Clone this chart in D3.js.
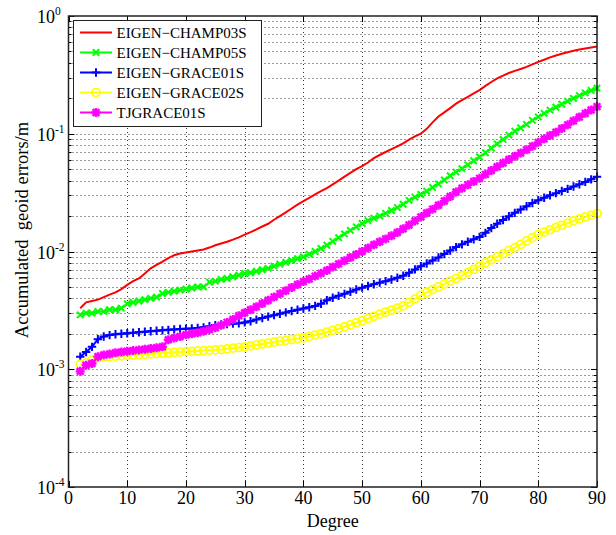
<!DOCTYPE html>
<html>
<head>
<meta charset="utf-8">
<style>
body { margin: 0; background: #fff; }
svg text { font-family: "Times New Roman", "Liberation Serif", "DejaVu Serif", serif; fill: #000; }
</style>
<script src="https://cdn.jsdelivr.net/npm/d3@7/dist/d3.min.js"></script>
</head>
<body>
<div id="chart"></div>
<script>
// degree 2..90, one value per degree
var degrees = d3.range(2, 91);

var champ03 = [0.0033,0.0037,0.0038,0.0039,0.0041,0.0043,0.0045,0.0048,0.0052,0.0056,
  0.0059,0.0065,0.0072,0.0077,0.0082,0.0088,0.0093,0.0096,0.0098,0.0100,
  0.0102,0.0104,0.0108,0.0113,0.0117,0.0121,0.0126,0.0132,0.0139,0.0146,
  0.0154,0.0163,0.0172,0.0186,0.0200,0.0215,0.0232,0.0250,0.0268,0.0285,
  0.0305,0.0325,0.0345,0.0372,0.0400,0.0432,0.0465,0.0500,0.0530,0.0570,
  0.0620,0.0660,0.0700,0.0740,0.0780,0.0830,0.0890,0.0950,0.1000,0.1100,
  0.1250,0.1400,0.1520,0.1650,0.1800,0.1930,0.2060,0.2200,0.2350,0.2550,
  0.2750,0.2950,0.3120,0.3280,0.3420,0.3550,0.3700,0.3880,0.4080,0.4250,
  0.4450,0.4620,0.4780,0.4920,0.5060,0.5190,0.5300,0.5400,0.5500];

var champ05 = [0.0029,0.0030,0.0030,0.0031,0.0031,0.0032,0.0032,0.0033,0.0036,0.0037,
  0.0038,0.0039,0.0040,0.0041,0.0044,0.0045,0.0046,0.0047,0.0048,0.0049,
  0.0050,0.0050,0.0055,0.0056,0.0058,0.0059,0.0061,0.0063,0.0065,0.0066,
  0.0068,0.0070,0.0072,0.0075,0.0078,0.0081,0.0084,0.0087,0.0090,0.0095,
  0.0100,0.0106,0.0113,0.0122,0.0131,0.0141,0.0151,0.0162,0.0173,0.0183,
  0.0192,0.0200,0.0211,0.0223,0.0236,0.0252,0.0272,0.0290,0.0305,0.0325,
  0.0350,0.0375,0.0405,0.0440,0.0472,0.0505,0.0545,0.0590,0.0635,0.0690,
  0.0755,0.0820,0.0895,0.0975,0.1050,0.1120,0.1200,0.1300,0.1390,0.1490,
  0.1590,0.1680,0.1780,0.1890,0.2000,0.2110,0.2220,0.2330,0.2440];

var grace01 = [0.00128,0.00140,0.00155,0.00180,0.00190,0.00195,0.00198,0.00200,0.00202,0.00204,
  0.00206,0.00208,0.00210,0.00212,0.00214,0.00216,0.00218,0.00220,0.00221,0.00222,
  0.00224,0.00227,0.00232,0.00237,0.00240,0.00242,0.00244,0.00246,0.00250,0.00256,
  0.00264,0.00272,0.00280,0.00288,0.00296,0.00304,0.00312,0.00320,0.00328,0.00336,
  0.00345,0.00360,0.00385,0.00405,0.00420,0.00437,0.00455,0.00475,0.00493,0.00510,
  0.00527,0.00544,0.00560,0.00578,0.00598,0.00623,0.00660,0.00705,0.00750,0.00790,
  0.00840,0.00890,0.00950,0.01020,0.01090,0.01150,0.01210,0.01270,0.01330,0.01440,
  0.01580,0.01720,0.01850,0.01990,0.02130,0.02270,0.02420,0.02580,0.02730,0.02860,
  0.03000,0.03130,0.03260,0.03400,0.03560,0.03720,0.03900,0.04100,0.04320];

var grace02 = [0.00110,0.00113,0.00120,0.00125,0.00127,0.00128,0.00129,0.00130,0.00131,0.00132,
  0.00133,0.00134,0.00135,0.00136,0.00137,0.00138,0.00139,0.00140,0.00141,0.00142,
  0.00143,0.00144,0.00145,0.00146,0.00147,0.00149,0.00151,0.00153,0.00155,0.00158,
  0.00161,0.00164,0.00167,0.00170,0.00173,0.00176,0.00179,0.00182,0.00185,0.00190,
  0.00195,0.00200,0.00207,0.00214,0.00221,0.00229,0.00238,0.00248,0.00258,0.00270,
  0.00282,0.00294,0.00306,0.00318,0.00330,0.00345,0.00370,0.00395,0.00425,0.00450,
  0.00475,0.00500,0.00530,0.00560,0.00590,0.00625,0.00665,0.00705,0.00750,0.00800,
  0.00850,0.00900,0.00960,0.01020,0.01080,0.01150,0.01230,0.01310,0.01390,0.01460,
  0.01530,0.01600,0.01670,0.01740,0.01820,0.01890,0.01960,0.02030,0.02110];

var tjgrace = [0.00096,0.00108,0.00112,0.00128,0.00132,0.00135,0.00138,0.00140,0.00142,0.00144,
  0.00146,0.00148,0.00150,0.00152,0.00155,0.00178,0.00184,0.00190,0.00196,0.00200,
  0.00204,0.00210,0.00217,0.00225,0.00236,0.00250,0.00265,0.00285,0.00302,0.00320,
  0.00340,0.00362,0.00385,0.00410,0.00437,0.00465,0.00495,0.00525,0.00555,0.00585,
  0.00618,0.00652,0.00690,0.00738,0.00785,0.00835,0.00890,0.00945,0.01000,0.01070,
  0.01140,0.01210,0.01280,0.01360,0.01450,0.01560,0.01680,0.01820,0.01960,0.02120,
  0.02290,0.02470,0.02680,0.02930,0.03200,0.03440,0.03680,0.03930,0.04180,0.04520,
  0.04880,0.05250,0.05650,0.06050,0.06450,0.06850,0.07300,0.07850,0.08450,0.09050,
  0.09650,0.10300,0.11100,0.11900,0.12900,0.13900,0.14900,0.15900,0.17000];

var seriesNames = ["EIGEN\u2212CHAMP03S", "EIGEN\u2212CHAMP05S", "EIGEN\u2212GRACE01S", "EIGEN\u2212GRACE02S", "TJGRACE01S"];
var seriesValues = [champ03, champ05, grace01, grace02, tjgrace];
var seriesColors = ["#ff0000", "#00ff00", "#0000ff", "#ffff00", "#ff00ff"];
var seriesMarkers = ["none", "x", "plus", "circle", "star"];

var xTicks = [0, 10, 20, 30, 40, 50, 60, 70, 80, 90];
var yExponents = [0, -1, -2, -3, -4];

var W = 616, H = 535;
var pLeft = 68.5, pRight = 597, pTop = 16, pBottom = 487;

var svg = d3.select("#chart").append("svg")
    .attr("width", W)
    .attr("height", H)
    .attr("font-family", "'Times New Roman', 'Liberation Serif', serif");

svg.append("rect").attr("width", W).attr("height", H).attr("fill", "#fff");

var x = d3.scaleLinear().domain([0, 90]).range([pLeft, pRight]);
var y = d3.scaleLog().domain([1e-4, 1]).range([pBottom, pTop]);

// grid
var grid = svg.append("g")
    .attr("stroke", "#333")
    .attr("stroke-width", 1)
    .attr("stroke-dasharray", "1,3");

grid.selectAll("line.gx")
    .data(xTicks.filter(function(d) { return d > 0 && d < 90; }))
    .enter().append("line")
    .attr("x1", function(d) { return Math.round(x(d)) + 0.5; })
    .attr("x2", function(d) { return Math.round(x(d)) + 0.5; })
    .attr("y1", pTop).attr("y2", pBottom);

var yGridTicks = y.ticks().filter(function(d) { return d > 1.0001e-4 && d < 0.9999; });
grid.selectAll("line.gy")
    .data(yGridTicks)
    .enter().append("line")
    .attr("x1", pLeft).attr("x2", pRight)
    .attr("y1", function(d) { return Math.round(y(d)) + 0.5; })
    .attr("y2", function(d) { return Math.round(y(d)) + 0.5; });

// tick marks (inward, all four sides)
var ticks = svg.append("g").attr("stroke", "#000").attr("stroke-width", 1);
y.ticks().forEach(function(d) {
  var major = Math.abs(Math.log10(d) - Math.round(Math.log10(d))) < 1e-6;
  var len = major ? 6 : 3;
  var yy = Math.round(y(d)) + 0.5;
  ticks.append("line").attr("x1", pLeft).attr("x2", pLeft + len).attr("y1", yy).attr("y2", yy);
  ticks.append("line").attr("x1", pRight).attr("x2", pRight - len).attr("y1", yy).attr("y2", yy);
});
xTicks.forEach(function(d) {
  var xx = Math.round(x(d)) + 0.5;
  ticks.append("line").attr("x1", xx).attr("x2", xx).attr("y1", pBottom).attr("y2", pBottom - 6);
  ticks.append("line").attr("x1", xx).attr("x2", xx).attr("y1", pTop).attr("y2", pTop + 6);
});

// series
var line = d3.line()
    .x(function(d, i) { return x(degrees[i]); })
    .y(function(d) { return y(d); });

function markerPath(type, s) {
  if (type === "x") return "M" + (-s) + "," + (-s) + "L" + s + "," + s + "M" + (-s) + "," + s + "L" + s + "," + (-s);
  if (type === "plus") return "M" + (-s) + ",0L" + s + ",0M0," + (-s) + "L0," + s;
  if (type === "star") {
    var t = s * 0.75;
    return "M" + (-s) + ",0L" + s + ",0M0," + (-s) + "L0," + s +
      "M" + (-t) + "," + (-t) + "L" + t + "," + t + "M" + (-t) + "," + t + "L" + t + "," + (-t);
  }
  return "";
}

seriesValues.forEach(function(vals, k) {
  var g = svg.append("g");
  g.append("path")
    .datum(vals)
    .attr("d", line)
    .attr("fill", "none")
    .attr("stroke", seriesColors[k])
    .attr("stroke-width", 2);
  var m = seriesMarkers[k];
  if (m === "circle") {
    g.selectAll("circle").data(vals).enter().append("circle")
      .attr("cx", function(d, i) { return x(degrees[i]); })
      .attr("cy", function(d) { return y(d); })
      .attr("r", 4)
      .attr("fill", "none")
      .attr("stroke", seriesColors[k])
      .attr("stroke-width", 1.7);
  } else if (m !== "none") {
    var s = m === "plus" ? 4.2 : (m === "star" ? 4.5 : 3.2);
    g.selectAll("path.mk").data(vals).enter().append("path")
      .attr("class", "mk")
      .attr("transform", function(d, i) { return "translate(" + x(degrees[i]) + "," + y(d) + ")"; })
      .attr("d", markerPath(m, s))
      .attr("stroke", seriesColors[k])
      .attr("stroke-width", m === "star" ? 2.4 : 2);
  }
});

// frame
svg.append("rect")
  .attr("x", pLeft).attr("y", pTop)
  .attr("width", pRight - pLeft).attr("height", pBottom - pTop)
  .attr("fill", "none").attr("stroke", "#222").attr("stroke-width", 1.5);

// x tick labels
svg.selectAll("text.xl").data(xTicks).enter().append("text")
  .attr("class", "xl")
  .attr("x", function(d) { return x(d); })
  .attr("y", pBottom + 17)
  .attr("text-anchor", "middle")
  .style("font-size", "18px")
  .text(function(d) { return d; });

// y tick labels 10^n
yExponents.forEach(function(e) {
  var t = svg.append("text")
    .attr("x", 37)
    .attr("y", y(Math.pow(10, e)) + 7)
    .style("font-size", "18px");
  t.append("tspan").text("10");
  t.append("tspan").attr("dy", -8).style("font-size", "11.5px").text(e === 0 ? "0" : "-" + Math.abs(e));
});

// axis titles
svg.append("text")
  .attr("x", x(45))
  .attr("y", 527)
  .attr("text-anchor", "middle")
  .style("font-size", "18px")
  .text("Degree");

svg.append("text")
  .attr("transform", "translate(28,230)rotate(-90)")
  .attr("text-anchor", "middle")
  .style("font-size", "18.5px")
  .style("white-space", "pre")
  .text("Accumulated  geoid errors/m");

// legend
var lg = svg.append("g");
lg.append("rect")
  .attr("x", 73.5).attr("y", 20.5)
  .attr("width", 188).attr("height", 106)
  .attr("fill", "#fff").attr("stroke", "#222").attr("stroke-width", 1);

seriesNames.forEach(function(name, k) {
  var yy = 32.5 + k * 20;
  lg.append("line")
    .attr("x1", 80).attr("x2", 112).attr("y1", yy).attr("y2", yy)
    .attr("stroke", seriesColors[k]).attr("stroke-width", 2);
  var m = seriesMarkers[k];
  if (m === "circle") {
    lg.append("circle").attr("cx", 96).attr("cy", yy).attr("r", 4)
      .attr("fill", "none").attr("stroke", seriesColors[k]).attr("stroke-width", 1.7);
  } else if (m !== "none") {
    lg.append("path")
      .attr("transform", "translate(96," + yy + ")")
      .attr("d", markerPath(m, m === "x" ? 3.2 : (m === "star" ? 4.5 : 4.2)))
      .attr("stroke", seriesColors[k]).attr("stroke-width", m === "star" ? 2.4 : 2);
  }
  lg.append("text")
    .attr("x", 116.5).attr("y", yy + 5.5)
    .style("font-size", "15px")
    .text(name);
});
</script>
</body>
</html>
